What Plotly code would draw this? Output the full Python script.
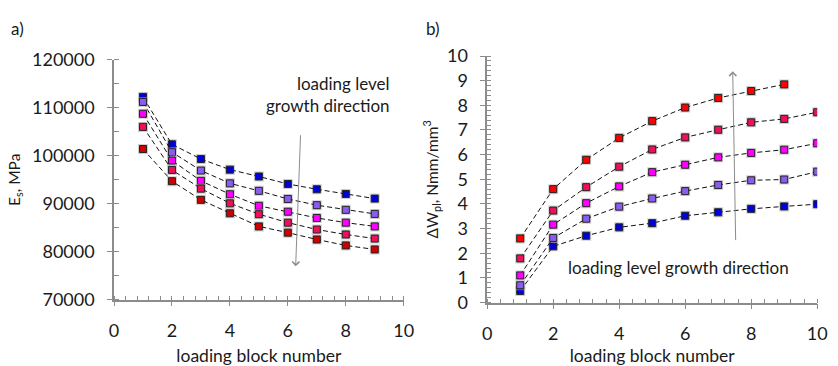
import plotly.graph_objects as go

# loading block numbers
blocks_a = [1, 2, 3, 4, 5, 6, 7, 8, 9]
blocks_b = [1, 2, 3, 4, 5, 6, 7, 8, 9, 10]

# a) secant modulus E_s [MPa] per loading level (lowest to highest)
es_level1 = [112260, 102380, 99320, 97110, 95680, 94120, 93020, 92040, 91070]
es_level2 = [111220, 100750, 96920, 94250, 92690, 91000, 89700, 88730, 87880]
es_level3 = [108750, 99000, 94770, 91980, 89570, 88340, 87040, 86060, 85280]
es_level4 = [106020, 97050, 93150, 90090, 87820, 86060, 84630, 83590, 82740]
es_level5 = [101400, 94710, 90810, 88010, 85280, 83980, 82550, 81310, 80470]

# b) plastic strain energy increment dW_pl [Nmm/mm3] per loading level
dw_level1 = [0.47, 2.28, 2.71, 3.05, 3.22, 3.52, 3.66, 3.80, 3.90, 3.99]
dw_level2 = [0.70, 2.62, 3.40, 3.89, 4.22, 4.52, 4.77, 4.96, 4.99, 5.31]
dw_level3 = [1.10, 3.16, 4.03, 4.71, 5.29, 5.59, 5.89, 6.07, 6.20, 6.46]
dw_level4 = [1.79, 3.73, 4.68, 5.51, 6.21, 6.70, 7.01, 7.31, 7.45, 7.72]
dw_level5 = [2.60, 4.60, 5.79, 6.68, 7.36, 7.91, 8.30, 8.58, 8.85]

colors_a = ["#0000D8", "#8A5CF0", "#FF00FF", "#F0105A", "#D00000"]
colors_b = ["#0000D8", "#8A5CF0", "#FF00FF", "#F0105A", "#FF0000"]

series_a = [es_level1, es_level2, es_level3, es_level4, es_level5]
series_b = [dw_level1, dw_level2, dw_level3, dw_level4, dw_level5]

FONT = "Lato"
TEXT = "#1a1a1a"
AXIS = "#8c8c8c"
W, H = 838, 366

fig = go.Figure()


def add_series(xs, ys, color, xa, ya, name):
    n = len(ys)
    # soft halo behind markers
    fig.add_trace(go.Scatter(
        x=xs[:n], y=ys, xaxis=xa, yaxis=ya, mode="markers",
        marker=dict(symbol="square", size=10, color="rgba(170,170,170,0.55)",
                    line=dict(width=0)),
        hoverinfo="skip", showlegend=False))
    fig.add_trace(go.Scatter(
        x=xs[:n], y=ys, xaxis=xa, yaxis=ya, mode="lines+markers", name=name,
        line=dict(color="#111111", width=1, dash="5px,3px"),
        marker=dict(symbol="square", size=7, color=color,
                    line=dict(color="#222222", width=1)),
        showlegend=False))


for i, (ys, c) in enumerate(zip(series_a, colors_a)):
    add_series(blocks_a, ys, c, "x", "y", f"level {i + 1}")
for i, (ys, c) in enumerate(zip(series_b, colors_b)):
    add_series(blocks_b, ys, c, "x2", "y2", f"level {i + 1}")

axis_common = dict(
    showgrid=False, zeroline=False, showline=True, linecolor=AXIS,
    linewidth=1.5, ticks="outside", ticklen=5, tickcolor=AXIS,
    tickwidth=1.2, tickfont=dict(family=FONT, size=18, color=TEXT),
    ticklabelstandoff=9,
)
xtitle_font = dict(family=FONT, size=17.5, color=TEXT)
ytitle_font = dict(family=FONT, size=15.5, color=TEXT)

fig.update_layout(
    width=W, height=H, margin=dict(l=0, r=0, t=0, b=0),
    paper_bgcolor="white", plot_bgcolor="white",
    font=dict(family=FONT, color=TEXT),
    xaxis=dict(
        axis_common, domain=[111 / W, 406 / W], range=[0, 10], dtick=2,
        minor=dict(dtick=0.4, ticks="inside", ticklen=4, tickcolor=AXIS),
        title=dict(text="loading block number", font=xtitle_font, standoff=10),
        anchor="y",
    ),
    yaxis=dict(
        axis_common, domain=[1 - 307 / H, 1 - 51 / H], range=[70000, 120000],
        dtick=10000, tickformat="d",
        minor=dict(dtick=5000, ticks="inside", ticklen=5, tickcolor=AXIS),
        title=dict(text="E<sub>s</sub>, MPa", font=ytitle_font, standoff=8),
        anchor="x",
    ),
    xaxis2=dict(
        axis_common, domain=[491 / W, 827 / W], range=[0, 10], dtick=2,
        minor=dict(dtick=0.4, ticks="inside", ticklen=4, tickcolor=AXIS),
        title=dict(text="loading block number", font=xtitle_font, standoff=10),
        anchor="y2",
    ),
    yaxis2=dict(
        axis_common, domain=[1 - 310 / H, 1 - 47 / H], range=[0, 10], dtick=1,
        minor=dict(dtick=0.2, ticks="inside", ticklen=4, tickcolor=AXIS),
        title=dict(text="ΔW<sub>pl</sub>, Nmm/mm<sup>3</sup>",
                   font=ytitle_font, standoff=5),
        anchor="x2",
    ),
)

# panel labels
for label, px in (("a)", 4), ("b)", 427)):
    fig.add_annotation(text=label, xref="paper", yref="paper", x=px / W,
                       y=1 - 18 / H, xanchor="left", yanchor="middle",
                       showarrow=False, font=dict(family=FONT, size=17, color=TEXT))

# direction notes and arrows
fig.add_annotation(text="loading level<br>growth direction", xref="x", yref="y",
                   x=9.6, y=112700, xanchor="right", yanchor="middle",
                   align="right", showarrow=False,
                   font=dict(family=FONT, size=17, color=TEXT))
fig.add_annotation(x=6.27, y=76960, ax=6.44, ay=104590, xref="x", yref="y",
                   axref="x", ayref="y", text="", showarrow=True, arrowhead=4,
                   arrowsize=1.4, arrowwidth=1, arrowcolor=AXIS)

fig.add_annotation(text="loading level growth direction", xref="x2", yref="y2",
                   x=5.8, y=1.41, xanchor="center", yanchor="middle",
                   showarrow=False, font=dict(family=FONT, size=17, color=TEXT))
fig.add_annotation(x=7.44, y=9.38, ax=7.53, ay=2.47, xref="x2", yref="y2",
                   axref="x2", ayref="y2", text="", showarrow=True, arrowhead=4,
                   arrowsize=1.4, arrowwidth=1, arrowcolor=AXIS)

# the page body gets no margin so the figure sits flush with the window
fig.write_html("out.html",
               post_script="document.body.style.margin='0';")
